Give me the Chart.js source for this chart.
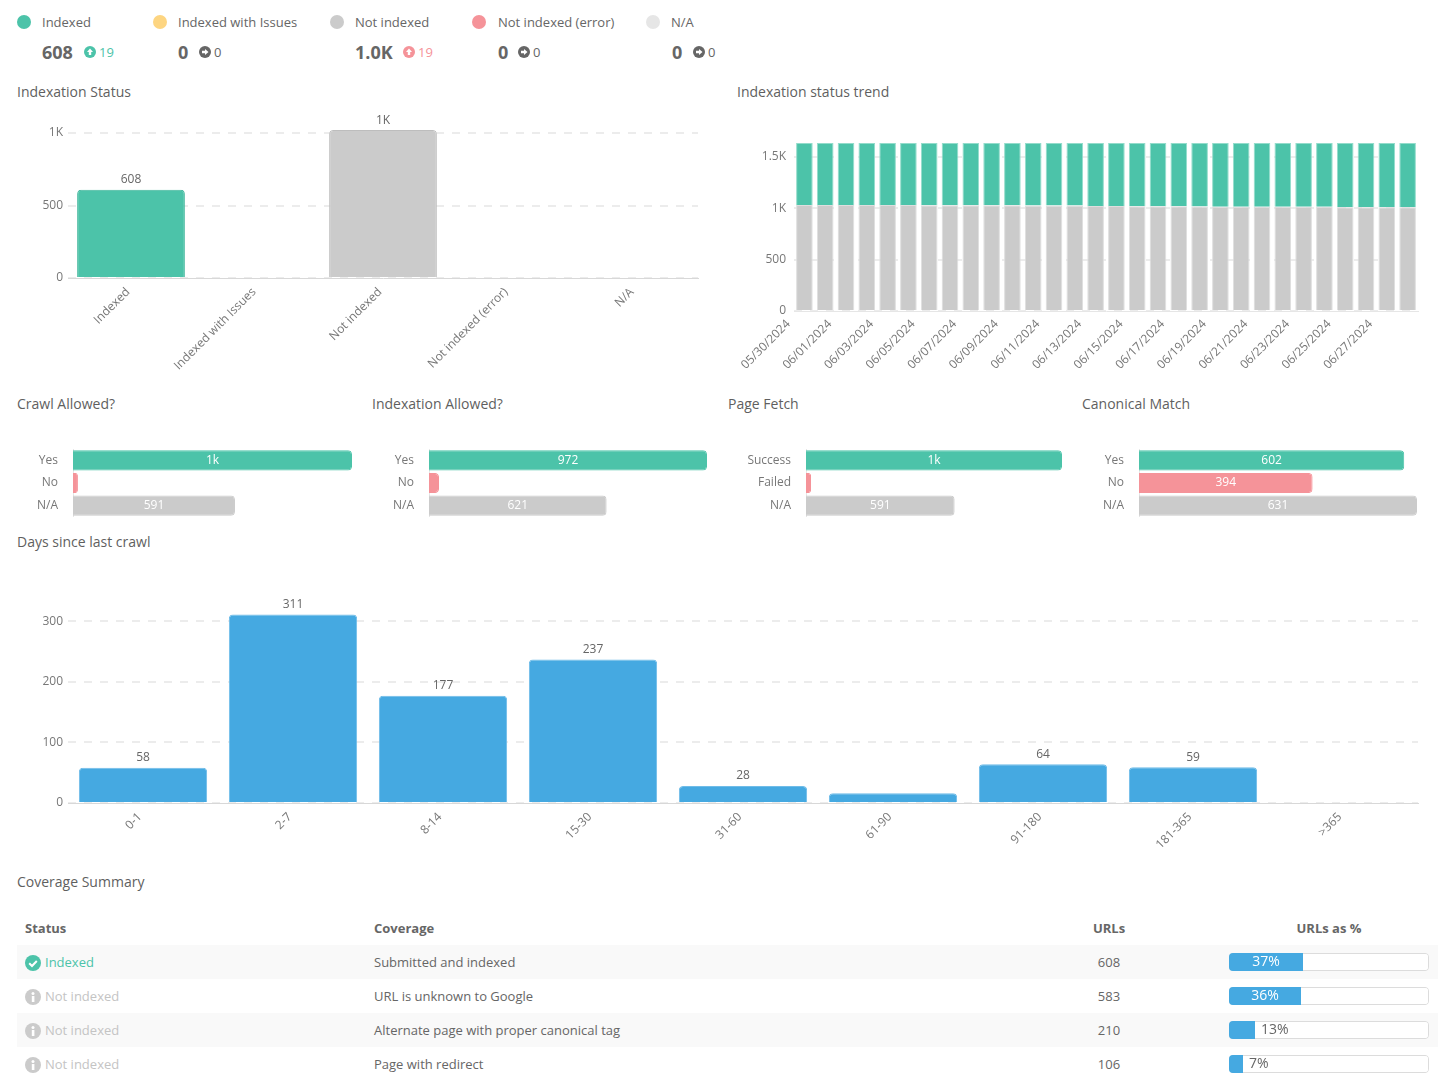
<!DOCTYPE html>
<html>
<head>
<meta charset="utf-8">
<title>Indexation report</title>
<script src="https://cdn.jsdelivr.net/npm/chart.js@4/dist/chart.umd.min.js"></script>
<style>
  html, body { margin: 0; padding: 0; background: #fff; }
  body { position: relative; width: 1440px; height: 1080px; overflow: hidden; font-family: "Open Sans", sans-serif; color: #666; }
  canvas { position: absolute; }
  .title { position: absolute; font-size: 14px; line-height: 20px; color: #5f5f5f; white-space: nowrap; }
  .dot { position: absolute; top: 15px; width: 14px; height: 14px; border-radius: 50%; }
  .name { position: absolute; top: 12px; font-size: 13px; line-height: 20px; color: #666; white-space: nowrap; }
  .count { position: absolute; top: 39px; font-size: 18px; line-height: 26px; font-weight: 700; color: #666; white-space: nowrap; }
  .delta { position: absolute; top: 42px; font-size: 13px; line-height: 20px; white-space: nowrap; }
  .delta svg { position: absolute; left: -15px; top: 4px; }
  table { position: absolute; left: 17px; top: 911px; width: 1421px; table-layout: fixed; border-collapse: collapse; font-size: 13px; color: #666; }
  th, td { height: 34px; padding: 0 0 0 8px; text-align: left; box-sizing: border-box; }
  th { font-weight: 700; }
  tbody tr:nth-child(odd) { background: #f9f9f9; }
  .num { text-align: center; padding: 0; }
  td svg { vertical-align: -4px; margin-right: 4px; }
  .ok { color: #4cc3a9; }
  .off { color: #c4c4c4; }
</style>
</head>
<body>

<div class="dot" style="left:17px;background:#4cc3a9"></div><div class="name" style="left:42px">Indexed</div>
<div class="dot" style="left:153px;background:#fdd581"></div><div class="name" style="left:178px">Indexed with Issues</div>
<div class="dot" style="left:330px;background:#cbcbcb"></div><div class="name" style="left:355px">Not indexed</div>
<div class="dot" style="left:472px;background:#f59399"></div><div class="name" style="left:498px">Not indexed (error)</div>
<div class="dot" style="left:646px;background:#e6e6e6"></div><div class="name" style="left:671px">N/A</div>

<div class="count" style="left:42px">608</div>
<div class="delta" style="left:99px;color:#4cc3a9"><svg width="12" height="12" viewBox="0 0 12 12"><circle cx="6" cy="6" r="6" fill="#4cc3a9"/><path d="M6 2.5 9 6H7.2v3H4.8V6H3z" fill="#fff"/></svg>19</div>
<div class="count" style="left:178px">0</div>
<div class="delta" style="left:214px"><svg width="12" height="12" viewBox="0 0 12 12"><circle cx="6" cy="6" r="6" fill="#666"/><path d="M9.5 6 6 9V7.2H3V4.8h3V3z" fill="#fff"/></svg>0</div>
<div class="count" style="left:355px">1.0K</div>
<div class="delta" style="left:418px;color:#f59399"><svg width="12" height="12" viewBox="0 0 12 12"><circle cx="6" cy="6" r="6" fill="#f59399"/><path d="M6 2.5 9 6H7.2v3H4.8V6H3z" fill="#fff"/></svg>19</div>
<div class="count" style="left:498px">0</div>
<div class="delta" style="left:533px"><svg width="12" height="12" viewBox="0 0 12 12"><circle cx="6" cy="6" r="6" fill="#666"/><path d="M9.5 6 6 9V7.2H3V4.8h3V3z" fill="#fff"/></svg>0</div>
<div class="count" style="left:672px">0</div>
<div class="delta" style="left:708px"><svg width="12" height="12" viewBox="0 0 12 12"><circle cx="6" cy="6" r="6" fill="#666"/><path d="M9.5 6 6 9V7.2H3V4.8h3V3z" fill="#fff"/></svg>0</div>

<div class="title" style="left:17px;top:82px">Indexation Status</div>
<div class="title" style="left:737px;top:82px">Indexation status trend</div>
<div class="title" style="left:17px;top:394px">Crawl Allowed?</div>
<div class="title" style="left:372px;top:394px">Indexation Allowed?</div>
<div class="title" style="left:728px;top:394px">Page Fetch</div>
<div class="title" style="left:1082px;top:394px">Canonical Match</div>
<div class="title" style="left:17px;top:532px">Days since last crawl</div>
<div class="title" style="left:17px;top:872px">Coverage Summary</div>

<canvas id="status-chart" style="left:0;top:105px" width="720" height="280"></canvas>
<canvas id="trend-chart" style="left:730px;top:130px" width="700" height="250"></canvas>
<canvas id="crawl-chart" style="left:17px;top:449px" width="337" height="68"></canvas>
<canvas id="index-chart" style="left:373px;top:449px" width="336" height="68"></canvas>
<canvas id="fetch-chart" style="left:728px;top:449px" width="336" height="68"></canvas>
<canvas id="canonical-chart" style="left:1083px;top:449px" width="336" height="68"></canvas>
<canvas id="days-chart" style="left:0;top:585px" width="1430" height="275"></canvas>

<table>
  <colgroup><col style="width:349px"><col style="width:632px"><col style="width:222px"><col style="width:218px"></colgroup>
  <thead><tr><th>Status</th><th>Coverage</th><th class="num">URLs</th><th class="num">URLs as %</th></tr></thead>
  <tbody id="coverage-rows"></tbody>
</table>
<canvas id="coverage-chart" style="left:1228px;top:945px" width="202" height="136"></canvas>

<script>
const teal = '#4cc3a9', yellow = '#fdd581', grey = '#cbcbcb', red = '#f59399', lightGrey = '#e6e6e6', blue = '#45a9e1';

// Indexation Status
const statusLabels = ['Indexed', 'Indexed with Issues', 'Not indexed', 'Not indexed (error)', 'N/A'];
const statusValues = [608, 0, 1020, 0, 0];
const statusText = ['608', '', '1K', '', ''];
const statusTicks = [0, 500, 1000];

// Indexation status trend
const trendDates = ['05/30/2024', '05/31/2024', '06/01/2024', '06/02/2024', '06/03/2024', '06/04/2024',
  '06/05/2024', '06/06/2024', '06/07/2024', '06/08/2024', '06/09/2024', '06/10/2024', '06/11/2024',
  '06/12/2024', '06/13/2024', '06/14/2024', '06/15/2024', '06/16/2024', '06/17/2024', '06/18/2024',
  '06/19/2024', '06/20/2024', '06/21/2024', '06/22/2024', '06/23/2024', '06/24/2024', '06/25/2024',
  '06/26/2024', '06/27/2024', '06/28/2024'];
const trendNotIndexed = [1032, 1032, 1032, 1032, 1032, 1033, 1031, 1031, 1030, 1030, 1030, 1029, 1028, 1028, 1024,
  1022, 1021, 1021, 1021, 1018, 1017, 1017, 1017, 1016, 1016, 1015, 1012, 1012, 1010, 1010];
const trendIndexed = [605, 605, 605, 605, 605, 604, 606, 606, 607, 607, 607, 608, 609, 609, 613,
  615, 616, 616, 616, 619, 620, 620, 620, 621, 621, 622, 625, 625, 627, 627];
const trendTicks = [0, 500, 1000, 1500];

// Small horizontal charts
const crawlLabels = ['Yes', 'No', 'N/A'];
const crawlValues = [1018, 18, 591];
const crawlText = ['1k', '', '591'];
const indexLabels = ['Yes', 'No', 'N/A'];
const indexValues = [972, 35, 621];
const indexText = ['972', '', '621'];
const fetchLabels = ['Success', 'Failed', 'N/A'];
const fetchValues = [1018, 20, 591];
const fetchText = ['1k', '', '591'];
const canonicalLabels = ['Yes', 'No', 'N/A'];
const canonicalValues = [602, 394, 631];
const canonicalText = ['602', '394', '631'];

// Days since last crawl
const dayLabels = ['0-1', '2-7', '8-14', '15-30', '31-60', '61-90', '91-180', '181-365', '>365'];
const dayValues = [58, 311, 177, 237, 28, 16, 64, 59, 1];
const dayText = ['58', '311', '177', '237', '28', '', '64', '59', ''];
const dayTicks = [0, 100, 200, 300];

// Coverage Summary
const coverageStatus = ['Indexed', 'Not indexed', 'Not indexed', 'Not indexed'];
const coverageNames = ['Submitted and indexed', 'URL is unknown to Google', 'Alternate page with proper canonical tag', 'Page with redirect'];
const coverageUrls = [608, 583, 210, 106];
const coveragePercent = [37, 36, 13, 7];
const coverageTrack = [100, 100, 100, 100];

const checkIcon = '<svg width="16" height="16" viewBox="0 0 16 16"><circle cx="8" cy="8" r="8" fill="#4cc3a9"/><path d="M4.2 8.2 7 11l4.8-5" fill="none" stroke="#fff" stroke-width="2"/></svg>';
const infoIcon = '<svg width="16" height="16" viewBox="0 0 16 16"><circle cx="8" cy="8" r="8" fill="#cbcbcb"/><rect x="6.8" y="7" width="2.6" height="6" fill="#fff"/><circle cx="8" cy="4.6" r="1.5" fill="#fff"/></svg>';

document.getElementById('coverage-rows').innerHTML = coverageStatus.map((status, i) => {
  const isOk = status === 'Indexed';
  return `<tr><td class="${isOk ? 'ok' : 'off'}">${isOk ? checkIcon : infoIcon}${status}</td>` +
    `<td>${coverageNames[i]}</td><td class="num">${coverageUrls[i]}</td><td></td></tr>`;
}).join('');

Chart.defaults.font.family = '"Open Sans", sans-serif';
Chart.defaults.font.size = 12;
Chart.defaults.color = '#777';
Chart.defaults.animation = false;
Chart.defaults.plugins.legend.display = false;
Chart.defaults.plugins.tooltip.enabled = false;
Chart.defaults.maintainAspectRatio = false;
Chart.defaults.responsive = false;

// Writes the text of each bar, placed from the bar elements themselves
const barText = {
  id: 'barText',
  afterDatasetsDraw(chart, args, opts) {
    if (!opts.texts) return;
    const ctx = chart.ctx;
    ctx.save();
    ctx.font = '12px "Open Sans", sans-serif';
    chart.getDatasetMeta(0).data.forEach((bar, i) => {
      const text = opts.texts[i];
      if (!text) return;
      if (opts.place === 'top') {
        ctx.fillStyle = '#666';
        ctx.textAlign = 'center';
        ctx.textBaseline = 'bottom';
        ctx.fillText(text, bar.x, bar.y - 4);
      } else if (opts.place === 'progress') {
        const wide = bar.x - bar.base > 40;
        ctx.fillStyle = wide ? '#fff' : '#666';
        ctx.textAlign = wide ? 'center' : 'left';
        ctx.textBaseline = 'middle';
        ctx.font = '14px "Open Sans", sans-serif';
        ctx.fillText(text, wide ? (bar.x + bar.base) / 2 : bar.x + 6, bar.y);
      } else {
        ctx.fillStyle = '#fff';
        ctx.textAlign = 'center';
        ctx.textBaseline = 'middle';
        ctx.fillText(text, (bar.x + bar.base) / 2, bar.y);
      }
    });
    ctx.restore();
  }
};
Chart.register(barText);

// Tick format used on the vertical axes
function shortNumber(value) {
  return value >= 1000 ? (value / 1000) + 'K' : value;
}

// Keeps the plot at a fixed place: axis size is forced, label overhang ignored
function fixAxis(size) {
  return (scale) => {
    if (scale.isHorizontal()) scale.height = size;
    else scale.width = size;
    scale.paddingTop = scale.paddingBottom = scale.paddingLeft = scale.paddingRight = 0;
  };
}

// Vertical chart with dashed grid lines
function createColumnChart(id, labels, values, texts, colors, borders, yMax, yTicks, xHeight, padding) {
  return new Chart(document.getElementById(id), {
    type: 'bar',
    data: {
      labels: labels,
      datasets: [{
        data: values,
        backgroundColor: colors,
        borderColor: borders,
        borderWidth: 1,
        borderRadius: { topLeft: 4, topRight: 4 },
        borderSkipped: 'bottom',
        barPercentage: 0.855,
        categoryPercentage: 1,
        minBarLength: 1
      }]
    },
    options: {
      layout: { padding: padding },
      plugins: { barText: { texts: texts, place: 'top' } },
      scales: {
        x: {
          grid: { display: false },
          border: { color: '#d8d8d8' },
          ticks: { autoSkip: false, minRotation: 45, maxRotation: 45, padding: -1, labelOffset: -3 },
          afterFit: fixAxis(xHeight)
        },
        y: {
          min: 0,
          max: yMax,
          grid: { color: '#ececec', lineWidth: 2, drawTicks: false },
          border: { display: false, dash: [8, 8] },
          ticks: { padding: 5, autoSkip: false, callback: shortNumber },
          afterBuildTicks: (scale) => { scale.ticks = yTicks.map((v) => ({ value: v })); },
          afterFit: fixAxis(68)
        }
      }
    }
  });
}

// Small horizontal chart, its longest bar fills the plot
function createRowChart(id, labels, values, texts, colors, yWidth) {
  return new Chart(document.getElementById(id), {
    type: 'bar',
    data: {
      labels: labels,
      datasets: [{
        data: values,
        backgroundColor: colors,
        borderColor: colors,
        borderWidth: 1,
        borderRadius: { topRight: 4, bottomRight: 4 },
        borderSkipped: 'left',
        barPercentage: 0.89,
        categoryPercentage: 1
      }]
    },
    options: {
      indexAxis: 'y',
      layout: { padding: { right: 2 } },
      plugins: { barText: { texts: texts, place: 'center' } },
      scales: {
        x: { display: false, min: 0, max: Math.max(...values) },
        y: {
          grid: { display: false },
          border: { color: '#e6e6e6' },
          ticks: { padding: 7, autoSkip: false },
          afterFit: fixAxis(yWidth)
        }
      }
    }
  });
}

createColumnChart('status-chart', statusLabels, statusValues, statusText,
  [teal, yellow, grey, red, lightGrey], ['#3fb59b', yellow, '#bdbdbd', red, lightGrey],
  1100, statusTicks, 107, { top: 13.5, right: 22 });

createColumnChart('days-chart', dayLabels, dayValues, dayText,
  [blue, blue, blue, blue, blue, blue, blue, blue, blue], '#6fbce8',
  340, dayTicks, 57, { top: 12, right: 12 });

new Chart(document.getElementById('trend-chart'), {
  type: 'bar',
  data: {
    labels: trendDates,
    datasets: [{
      data: trendNotIndexed,
      backgroundColor: grey,
      borderColor: '#dedede',
      borderWidth: 1,
      barPercentage: 0.8,
      categoryPercentage: 1
    }, {
      data: trendIndexed,
      backgroundColor: teal,
      borderColor: '#93dccb',
      borderWidth: 1,
      barPercentage: 0.8,
      categoryPercentage: 1
    }]
  },
  options: {
    layout: { padding: { top: 13, right: 12 } },
    scales: {
      x: {
        stacked: true,
        grid: { display: false },
        border: { color: '#e6e6e6' },
        ticks: {
          autoSkip: false,
          minRotation: 45,
          maxRotation: 45,
          padding: -2,
          labelOffset: -16,
          callback(value, index) { return index % 2 === 0 ? this.getLabelForValue(value) : ''; }
        },
        afterFit: fixAxis(69)
      },
      y: {
        stacked: true,
        min: 0,
        max: 1637,
        grid: { color: '#ececec', lineWidth: 2, drawTicks: false },
        border: { display: false, dash: [8, 8] },
        ticks: { padding: 8, autoSkip: false, callback: shortNumber },
        afterBuildTicks: (scale) => { scale.ticks = trendTicks.map((v) => ({ value: v })); },
        afterFit: fixAxis(64)
      }
    }
  }
});

createRowChart('crawl-chart', crawlLabels, crawlValues, crawlText, [teal, red, grey], 56);
createRowChart('index-chart', indexLabels, indexValues, indexText, [teal, red, grey], 56);
createRowChart('fetch-chart', fetchLabels, fetchValues, fetchText, [teal, red, grey], 78);
createRowChart('canonical-chart', canonicalLabels, canonicalValues, canonicalText, [teal, red, grey], 56);

// Progress bars of the table column
new Chart(document.getElementById('coverage-chart'), {
  type: 'bar',
  data: {
    labels: coverageNames,
    datasets: [{
      data: coveragePercent,
      grouped: false,
      backgroundColor: blue,
      borderRadius: { topLeft: 4, bottomLeft: 4 },
      borderSkipped: false,
      barPercentage: 0.53,
      categoryPercentage: 1
    }, {
      data: coverageTrack,
      grouped: false,
      backgroundColor: '#fff',
      borderColor: '#dcdcdc',
      borderWidth: 1,
      borderRadius: 4,
      borderSkipped: false,
      barPercentage: 0.53,
      categoryPercentage: 1
    }]
  },
  options: {
    indexAxis: 'y',
    layout: { padding: { left: 1, right: 1 } },
    plugins: { barText: { texts: coveragePercent.map((p) => p + '%'), place: 'progress' } },
    scales: {
      x: { display: false, min: 0, max: 100 },
      y: { display: false }
    }
  }
});
</script>
</body>
</html>
